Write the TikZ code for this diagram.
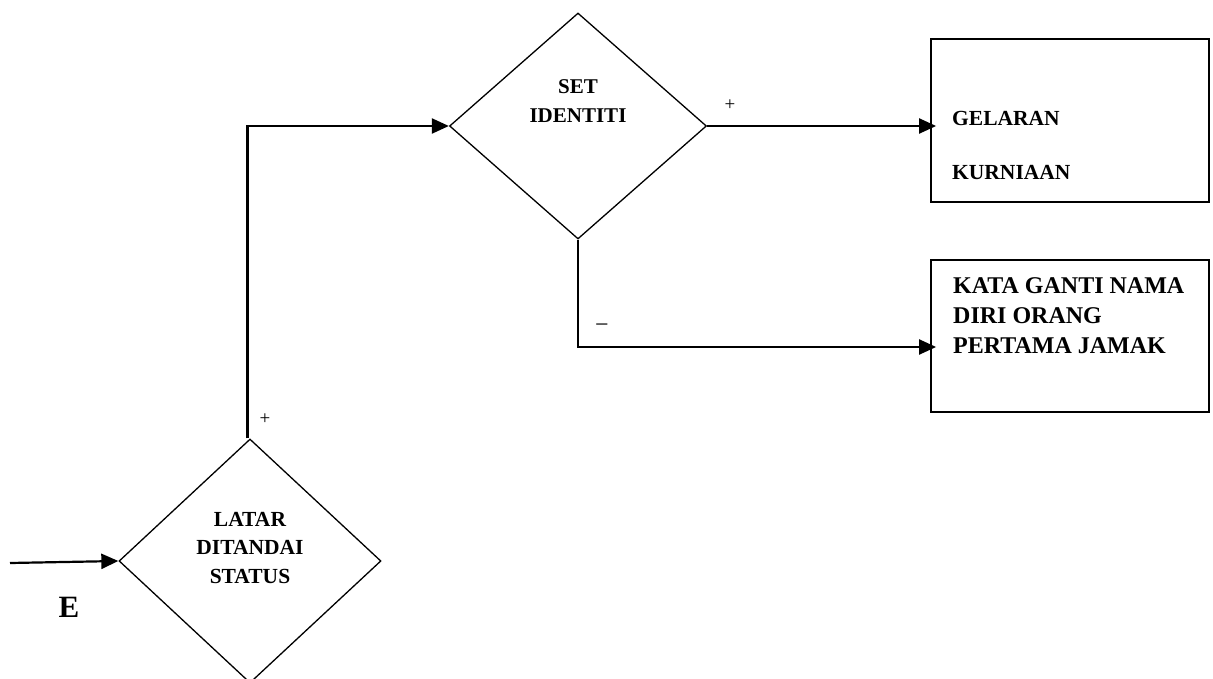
\documentclass[tikz,border=0pt]{standalone}
\usepackage{fontspec}
\setmainfont{Liberation Serif}
\usetikzlibrary{shapes.geometric,arrows.meta}
\begin{document}
\begin{tikzpicture}[x=1pt,y=-1pt,
  decision/.style={shape=diamond,draw,line width=1.3pt,inner sep=0pt},
  outbox/.style={draw,line width=1.8pt,inner sep=0pt},
  flow/.style={line width=2.2pt,-{Triangle[length=17pt,width=15pt]}},
  boldtext/.style={inner sep=0pt,align=#1,font=\bfseries},
  signtext/.style={inner sep=0pt,font=\fontsize{19}{22}\selectfont}]
\useasboundingbox (0,0) rectangle (1213,679);

% decision diamonds
\node[decision,minimum width=262pt,minimum height=244pt] (d1) at (250,561) {};
\node[boldtext=center,font=\fontsize{21.5}{28.5}\selectfont\bfseries] (d1t) at (250,548) {LATAR\\DITANDAI\\STATUS};

\node[decision,minimum width=257pt,minimum height=226pt] (d2) at (578,126) {};
\node[boldtext=center,font=\fontsize{21}{29}\selectfont\bfseries] (d2t) at (578,101.5) {SET\\IDENTITI};

% result boxes
\node[outbox,minimum width=278pt,minimum height=163pt] (b1) at (1070,120.5) {};
\node[boldtext=left,font=\fontsize{21.5}{54}\selectfont\bfseries,anchor=west] (b1t) at (952,145) {GELARAN\\KURNIAAN};

\node[outbox,minimum width=278pt,minimum height=152pt] (b2) at (1070,336) {};
\node[boldtext=left,font=\fontsize{24}{30}\selectfont\bfseries,anchor=west] (b2t) at (953,316) {KATA GANTI NAMA\\DIRI ORANG\\PERTAMA JAMAK};

% entry
\coordinate (start) at (10,563);
\node[inner sep=0pt,font=\fontsize{31}{31}\selectfont\bfseries,anchor=base] (e) at (69,617) {E};

% connectors
\draw[flow] (start) -- (d1.west);
\draw[flow] ([xshift=-2.5pt]d1.north) |- (d2.west);
\draw[flow,shorten >=-6pt] (d2.east) -- (d2.east -| b1.west);
\draw[flow,shorten >=-6pt] (d2.south) |- ([yshift=-11pt]b2.west);

% branch signs
\node[signtext] (p1) at (265,419) {+};
\node[signtext] (p2) at (730,105) {+};
\node[signtext,font=\fontsize{24}{24}\selectfont] (m1) at (602,328) {−};
\end{tikzpicture}
\end{document}
